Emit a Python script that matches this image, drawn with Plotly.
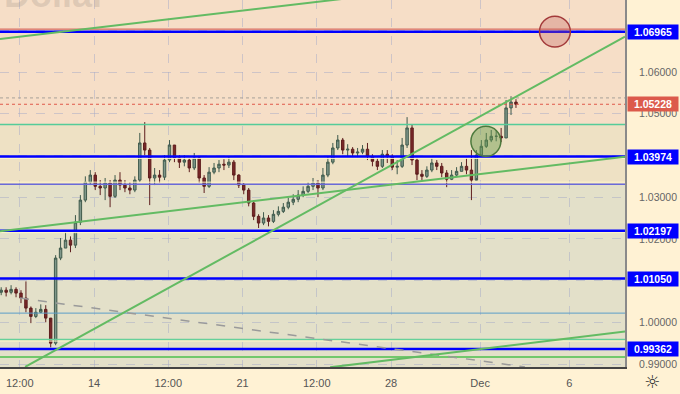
import plotly.graph_objects as go

# ---------------- data ----------------
# 4h bars; x = trading days since Mon 14 Nov 2022 00:00 (weekends removed)
n_bars = 105
bar_t = [-3.125 + k / 6 for k in range(n_bars)]

first_open = 1.0072
close = [1.0077, 1.0072, 1.0079, 1.0070, 1.0058, 1.0034, 1.0014, 1.0024, 1.0031, 1.0010,
         0.9950, 1.0154, 1.0178, 1.0197, 1.0185, 1.0240, 1.0293, 1.0336, 1.0353, 1.0326,
         1.0322, 1.0334, 1.0302, 1.0341, 1.0329, 1.0322, 1.0317, 1.0341, 1.0430, 1.0413,
         1.0346, 1.0353, 1.0348, 1.0389, 1.0425, 1.0394, 1.0384, 1.0389, 1.0370, 1.0394,
         1.0346, 1.0326, 1.0360, 1.0370, 1.0379, 1.0377, 1.0384, 1.0353, 1.0329, 1.0317,
         1.0286, 1.0254, 1.0238, 1.0250, 1.0242, 1.0259, 1.0266, 1.0276, 1.0288, 1.0295,
         1.0305, 1.0314, 1.0326, 1.0334, 1.0322, 1.0353, 1.0384, 1.0418, 1.0437, 1.0413,
         1.0415, 1.0406, 1.0408, 1.0415, 1.0398, 1.0386, 1.0374, 1.0403, 1.0398, 1.0372,
         1.0374, 1.0425, 1.0466, 1.0389, 1.0355, 1.0350, 1.0365, 1.0382, 1.0374, 1.0358,
         1.0343, 1.0353, 1.0362, 1.0374, 1.0365, 1.0341, 1.0401, 1.0422, 1.0437, 1.0446,
         1.0446, 1.0442, 1.0514, 1.0528, 1.05228]
high = [1.0084, 1.0084, 1.0089, 1.0084, 1.0077, 1.0098, 1.0038, 1.0034, 1.0043, 1.0041,
        1.0000, 1.0161, 1.0202, 1.0216, 1.0206, 1.0257, 1.0305, 1.0350, 1.0365, 1.0360,
        1.0341, 1.0346, 1.0341, 1.0353, 1.0360, 1.0341, 1.0336, 1.0350, 1.0454, 1.0480,
        1.0418, 1.0370, 1.0365, 1.0401, 1.0437, 1.0425, 1.0401, 1.0401, 1.0394, 1.0406,
        1.0396, 1.0353, 1.0372, 1.0382, 1.0389, 1.0391, 1.0398, 1.0389, 1.0355, 1.0334,
        1.0322, 1.0293, 1.0259, 1.0264, 1.0257, 1.0269, 1.0278, 1.0286, 1.0298, 1.0307,
        1.0317, 1.0326, 1.0336, 1.0346, 1.0341, 1.0370, 1.0396, 1.0430, 1.0449, 1.0442,
        1.0427, 1.0420, 1.0418, 1.0425, 1.0430, 1.0403, 1.0394, 1.0413, 1.0413, 1.0403,
        1.0389, 1.0442, 1.0492, 1.0473, 1.0394, 1.0365, 1.0374, 1.0394, 1.0389, 1.0382,
        1.0365, 1.0365, 1.0372, 1.0384, 1.0394, 1.0413, 1.0413, 1.0437, 1.0454, 1.0461,
        1.0461, 1.0466, 1.0533, 1.0542, 1.0535]
low = [1.0065, 1.0062, 1.0067, 1.0060, 1.0046, 1.0024, 0.9998, 1.0010, 1.0022, 1.0000,
       0.9940, 0.9945, 1.0149, 1.0178, 1.0168, 1.0178, 1.0233, 1.0288, 1.0329, 1.0317,
       1.0305, 1.0293, 1.0276, 1.0298, 1.0317, 1.0312, 1.0307, 1.0312, 1.0336, 1.0401,
       1.0281, 1.0329, 1.0334, 1.0341, 1.0384, 1.0384, 1.0370, 1.0374, 1.0360, 1.0365,
       1.0334, 1.0310, 1.0322, 1.0355, 1.0360, 1.0365, 1.0370, 1.0341, 1.0322, 1.0307,
       1.0278, 1.0245, 1.0226, 1.0233, 1.0230, 1.0238, 1.0254, 1.0262, 1.0271, 1.0281,
       1.0288, 1.0300, 1.0310, 1.0317, 1.0300, 1.0317, 1.0348, 1.0379, 1.0413, 1.0403,
       1.0398, 1.0396, 1.0396, 1.0403, 1.0389, 1.0374, 1.0365, 1.0370, 1.0382, 1.0365,
       1.0355, 1.0370, 1.0418, 1.0377, 1.0341, 1.0341, 1.0346, 1.0360, 1.0365, 1.0348,
       1.0324, 1.0341, 1.0348, 1.0362, 1.0355, 1.0293, 1.0346, 1.0398, 1.0418, 1.0432,
       1.0434, 1.0432, 1.0442, 1.0497, 1.0514]
open_ = [first_open] + close[:-1]

x_tick_vals = [-2.5, 0, 2.5, 5, 7.5, 10, 13, 16]
x_tick_text = ["12:00", "14", "12:00", "21", "12:00", "28", "Dec", "6"]
y_tick_vals = [0.99, 1.00, 1.01, 1.02, 1.03, 1.04, 1.05, 1.06, 1.07]

x_range = [-3.165, 17.879]
y_range = [0.98928, 1.07728]

key_levels = [1.06965, 1.03974, 1.02197, 1.01050, 0.99362]
last_price = 1.05228

# thin horizontal drawings: (price, colour, width, dash)
thin_levels = [
    (1.0703, "#d0504a", 1, "solid"),
    (1.0538, "#a8a099", 1, "dot"),
    (1.05228, "#e0584a", 1, "dot"),
    (1.0474, "#55cc99", 1.5, "solid"),
    (1.0393, "#fff6c8", 1, "solid"),
    (1.0336, "#fff6c8", 1, "solid"),
    (1.0331, "#6a6ad8", 1.5, "solid"),
    (1.0215, "#fff6c8", 1, "solid"),
    (1.0022, "#5a9ec8", 1, "solid"),
    (0.9959, "#66d09a", 1.5, "solid"),
    (0.9955, "#fff6c8", 1, "solid"),
    (0.9917, "#4cc04c", 1.5, "solid"),
]

# background zones: (low price, high price, colour)
zones = [
    (1.0331, 1.0474, "#eee1c4"),
    (0.98, 1.0331, "#e3e0c9"),
]

# trend lines: ((t0, p0), (t1, p1))
trend_lines = [
    ((-3.165, 1.0679), (17.88, 1.0855)),
    ((-2.32, 0.9893), (17.88, 1.0685)),
    ((-3.165, 1.0218), (17.88, 1.0397)),
    ((7.95, 0.9892), (17.88, 0.9978)),
]
dashed_line = ((-2.49, 1.0058), (14.51, 0.9893))

# circles: (t0, t1, p0, p1, fill, line)
circles = [
    (12.69, 13.70, 1.0398, 1.0470, "rgba(105,155,75,0.45)", "#4d7a3d"),
    (15.00, 16.04, 1.0660, 1.0734, "rgba(190,85,85,0.30)", "#a33a3a"),
]

# ---------------- figure ----------------
fig = go.Figure()
fig.add_trace(go.Candlestick(
    x=bar_t, open=open_, high=high, low=low, close=close,
    increasing=dict(line=dict(color="#3f5a4c", width=1), fillcolor="#7f978a"),
    decreasing=dict(line=dict(color="#5e1e1e", width=1), fillcolor="#7a2828"),
    whiskerwidth=0, hoverinfo="skip", showlegend=False,
))

shapes = []
for lo, hi, col in zones:
    shapes.append(dict(type="rect", xref="paper", x0=0, x1=1, yref="y", y0=lo, y1=hi,
                       fillcolor=col, line=dict(width=0), layer="below"))
for p, col, w, d in thin_levels:
    shapes.append(dict(type="line", xref="paper", x0=0, x1=1, yref="y", y0=p, y1=p,
                       line=dict(color=col, width=w, dash=d), layer="above"))
for p in key_levels:
    shapes.append(dict(type="line", xref="paper", x0=0, x1=1, yref="y", y0=p, y1=p,
                       line=dict(color="#0000ff", width=2.5), layer="above"))
(dx0, dy0), (dx1, dy1) = dashed_line
shapes.append(dict(type="line", xref="x", yref="y", x0=dx0, y0=dy0, x1=dx1, y1=dy1,
                   line=dict(color="#9a9a9a", width=1.5, dash="dash"), layer="above"))
for (t0, p0), (t1, p1) in trend_lines:
    shapes.append(dict(type="line", xref="x", yref="y", x0=t0, y0=p0, x1=t1, y1=p1,
                       line=dict(color="#63bb63", width=2), layer="above"))
for t0, t1, p0, p1, fc, lc in circles:
    shapes.append(dict(type="circle", xref="x", yref="y", x0=t0, x1=t1, y0=p0, y1=p1,
                       fillcolor=fc, line=dict(color=lc, width=1.5), layer="above"))

annotations = []
for p in key_levels:
    annotations.append(dict(xref="paper", yref="y", x=1, y=p, xanchor="left", yanchor="middle",
                            xshift=2, text="<b>%.5f</b>" % p, showarrow=False,
                            bgcolor="#0000ff", width=50, height=14, borderpad=0,
                            font=dict(color="white", size=10.5, family="Liberation Sans, Arial")))
annotations.append(dict(xref="paper", yref="y", x=1, y=last_price, xanchor="left", yanchor="middle",
                        xshift=2, text="<b>%.5f</b>" % last_price, showarrow=False,
                        bgcolor="#dc5a4b", width=50, height=14, borderpad=0,
                        font=dict(color="white", size=10.5, family="Liberation Sans, Arial")))
# watermark fragment (mostly above the visible area, as in the reference)
annotations.append(dict(xref="paper", yref="paper", x=108 / 625, y=1 - 17 / 367,
                        xanchor="right", yanchor="bottom", text="<b>Dollar</b>", showarrow=False,
                        font=dict(color="rgba(140,130,120,0.22)", size=36,
                                  family="Liberation Sans, Arial")))
# settings icon
annotations.append(dict(xref="paper", yref="paper", x=1, y=0, xanchor="center", yanchor="top",
                        xshift=27, yshift=-2, text="\u263c", showarrow=False,
                        font=dict(color="#333333", size=18, family="DejaVu Sans")))

fig.update_layout(
    width=680, height=394,
    margin=dict(l=0, r=55, t=0, b=27),
    paper_bgcolor="#fff2d4", plot_bgcolor="#f6dec7",
    showlegend=False, shapes=shapes, annotations=annotations,
    font=dict(family="Liberation Sans, Arial", color="#555555"),
    xaxis=dict(range=x_range, tickvals=x_tick_vals, ticktext=x_tick_text,
               showgrid=True, gridcolor="rgba(165,170,200,0.5)", griddash="dash", gridwidth=1,
               showline=True, linecolor="#444444", linewidth=1.5, ticks="",
               ticklabelstandoff=5,
               tickfont=dict(size=11, color="#555555"), zeroline=False,
               rangeslider=dict(visible=False), fixedrange=True),
    yaxis=dict(range=y_range, side="right", tickvals=y_tick_vals, tickformat=".5f",
               showgrid=True, gridcolor="rgba(165,170,200,0.5)", griddash="dash", gridwidth=1,
               showline=True, linecolor="#8a8a8a", linewidth=2, ticks="",
               ticklabelstandoff=10,
               tickfont=dict(size=10.5, color="#666666"), zeroline=False, fixedrange=True),
)

fig.write_html("out.html")
